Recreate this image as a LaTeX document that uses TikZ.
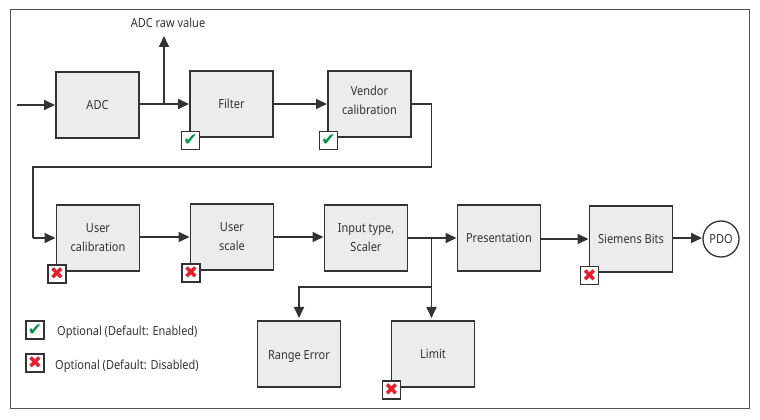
\documentclass[tikz,border=0pt]{standalone}
\usepackage{fontspec}
\setmainfont[FakeStretch=0.88]{Noto Sans}
\newfontfamily\marksfont{DejaVu Sans}
\usetikzlibrary{arrows.meta, positioning, calc}
\definecolor{blockfill}{RGB}{235,237,236}
\definecolor{blockline}{RGB}{51,51,51}
\definecolor{okgreen}{RGB}{0,150,70}
\definecolor{offred}{RGB}{230,30,45}

\begin{document}
\begin{tikzpicture}[
  x=1pt, y=1pt,
  font=\fontsize{12.5}{19}\selectfont,
  text=blockline,
  block/.style={draw=blockline, fill=blockfill, align=center, line width=1.5pt,
                minimum width=83pt, minimum height=66pt, inner sep=2pt, outer sep=0pt},
  lowblock/.style={block, execute at begin node={\rule{0pt}{13.5pt}}},
  badge/.style={draw=blockline, fill=white, line width=1.5pt, minimum size=18pt,
                inner sep=0pt, outer sep=0pt, font=\marksfont\fontsize{17}{17}\selectfont},
  okbadge/.style={badge, text=okgreen},
  offbadge/.style={badge, text=offred},
  flow/.style={-{Triangle[length=11pt,width=10pt]}, draw=blockline, line width=1.7pt, shorten >=1pt},
  wire/.style={draw=blockline, line width=1.3pt},
]
\useasboundingbox (0,0) rectangle (760,420);
\node[draw=blockline!85, line width=1pt, minimum width=739.5pt, minimum height=399.5pt,
      outer sep=0pt, inner sep=0pt] (frame) at (379.75,210.75) {};

% first row
\node[block] (adc) at (97.5,315) {ADC};
\node[block, right=51pt of adc, yshift=1pt] (filter) {Filter};
\node[lowblock, right=55pt of filter] (vendor) {Vendor\\calibration\\[-12pt]~};

% second row
\node[lowblock] (usercal) at (98,182) {User\\calibration};
\node[lowblock, right=51pt of usercal, yshift=1pt] (userscale) {User\\scale};
\node[lowblock, right=51pt of userscale, yshift=-1pt] (input) {Input type,\\Scaler};
\node[block, right=50pt of input] (pres) {Presentation};
\node[block, right=49pt of pres, yshift=-1pt] (siemens) {Siemens Bits};
\node[draw=blockline, fill=white, circle, line width=1.3pt, minimum size=36pt, inner sep=0pt,
      outer sep=0pt, right=30.5pt of siemens] (pdo) {PDO};

% third row
\node[lowblock] (range) at (299,66) {Range Error};
\node[block, right=51pt of range] (limit) {Limit};

% option marks
\node[okbadge] (filterok) at ($(filter.south west)+(0.5,-3.5)$) {✔};
\node[okbadge] (vendorok) at ($(vendor.south west)+(0.5,-3.5)$) {✔};
\node[offbadge] (usercaloff) at ($(usercal.south west)+(0.5,-3)$) {✖};
\node[offbadge] (userscaleoff) at ($(userscale.south west)+(0.5,-3)$) {✖};
\node[offbadge] (siemensoff) at ($(siemens.south west)+(0,-3.5)$) {✖};
\node[offbadge] (limitoff) at ($(limit.south west)+(0,-3)$) {✖};

% legend
\node[okbadge] (legendok) at (35,90) {✔};
\node[offbadge] (legendoff) at (35,57) {✖};
\node[anchor=west] (legendoktext) at (53.7,88) {Optional (Default: Enabled)};
\node[anchor=west] (legendofftext) at (51.7,54) {Optional (Default: Disabled)};

\node (rawlabel) at (168,397) {ADC raw value};

\coordinate[left=39pt of adc.west] (start);
\coordinate[right=25pt of adc.east |- filter.west] (tap);
\coordinate (rawtip) at (164,385);
\coordinate (returnright) at (431.5,253);
\coordinate (returnleft) at (33,253);
\coordinate (split) at (431.5,181.5);
\coordinate (splitbranch) at (431.5,133);

\draw[flow] (start) -- (adc.west);
\draw[flow] (adc.east |- filter.west) -- (filter.west);
\draw[flow] (tap) -- (tap |- rawtip);
\draw[flow] (filter.east) -- (vendor.west);
\draw[wire] (vendor.east) -- (returnright |- vendor.east) -- (returnright) -- (returnleft) -- (returnleft |- usercal.west);
\draw[flow] (returnleft |- usercal.west) -- (usercal.west);
\draw[flow] (usercal.east |- userscale.west) -- (userscale.west);
\draw[flow] (userscale.east) -- (userscale.east -| input.west);
\draw[flow] (input.east) -- (pres.west);
\draw[flow] (pres.east |- siemens.west) -- (siemens.west);
\draw[flow] ([yshift=1pt]siemens.east) -- ([yshift=1pt]pdo.west);
\draw[flow, shorten >=3pt] (split) -- (split |- limit.north);
\draw[flow, shorten >=3pt] (splitbranch) -| (range.north);
\end{tikzpicture}
\end{document}
